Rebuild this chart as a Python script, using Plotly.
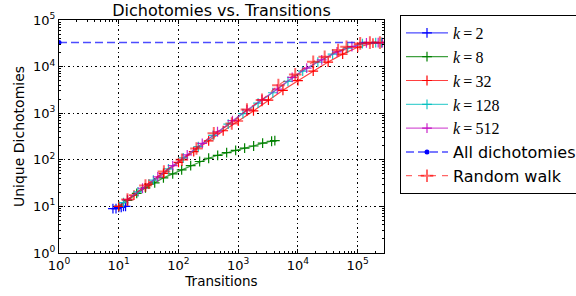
import plotly.graph_objects as go

# ---------------- data ----------------
tick_vals = [1, 10, 100, 1000, 10000, 100000]
tick_text = ["10<sup>0</sup>", "10<sup>1</sup>", "10<sup>2</sup>",
             "10<sup>3</sup>", "10<sup>4</sup>", "10<sup>5</sup>"]

k2_x = [8, 9, 10, 11, 12, 13]
k2_y = [9, 9, 9.5, 9.5, 10, 10]

k8_x = [10, 14, 20, 28, 40, 56, 80, 113, 160, 226, 320, 453, 640, 905,
        1280, 1810, 2560, 3620, 4100]
k8_y = [10, 13.5, 19, 25, 32, 41, 50, 61, 75, 92, 108, 125, 142, 160,
        178, 198, 228, 250, 258]

k32_x = [10, 18, 32, 56, 100, 180, 320, 560, 1000, 1800, 3200, 5600,
         10000, 18000, 32000, 56000, 100000, 180000, 250000]
k32_y = [10, 17.5, 30, 51, 88, 150, 255, 420, 680, 1120, 1900, 3100,
         5000, 8000, 12500, 18500, 26000, 32000, 32768]

k128_x = [12, 21, 38, 68, 120, 215, 380, 680, 1200, 2150, 3800, 6800,
          12000, 21500, 38000, 68000, 120000, 200000, 250000]
k128_y = [12, 20.5, 36.5, 64, 110, 192, 335, 580, 980, 1650, 2750, 4800,
          8000, 12500, 18500, 25000, 31000, 32768, 32768]

k512_x = [14, 25, 45, 80, 140, 250, 450, 800, 1400, 2500, 4500, 8000,
          14000, 25000, 45000, 80000, 140000, 220000, 260000]
k512_y = [14, 24.5, 43, 75, 128, 225, 400, 690, 1170, 1940, 3300, 5850,
          9300, 14000, 20700, 27000, 32300, 32768, 32768]

all_x = [1, 1000000]
all_y = [32768, 32768]

rw_x = [14, 28, 57, 114, 200, 390, 780, 1400, 2500, 4700, 9000, 18000,
        28000, 47000, 65000, 110000, 160000, 235000]
rw_y = [14, 28, 56, 100, 175, 370, 600, 1200, 1930, 4000, 6800, 12700,
        16300, 22700, 26700, 31500, 32768, 32768]

series_names = ["k=2", "k=8", "k=32", "k=128", "k=512",
                "All dichotomies", "Random walk"]

# ---------------- figure ----------------
fig = go.Figure()

def ktext(label):
    k, v = label.split("=")
    return ("<span style='font-family:Liberation Serif'><i>" + k +
            "</i>\u2009=\u2009" + v + "</span>")

line_series = [
    (k2_x, k2_y, "rgba(0,0,255,0.7)", "rgb(0,0,255)"),
    (k8_x, k8_y, "rgba(0,128,0,0.75)", "rgb(0,128,0)"),
    (k32_x, k32_y, "rgba(255,0,0,0.75)", "rgb(255,0,0)"),
    (k128_x, k128_y, "rgba(0,191,191,0.7)", "rgba(0,191,191,0.9)"),
    (k512_x, k512_y, "rgba(191,0,191,0.65)", "rgba(191,0,191,0.85)"),
]
for i, (xs, ys, lc, mc) in enumerate(line_series):
    fig.add_trace(go.Scatter(
        x=xs, y=ys, mode="lines+markers", name=ktext(series_names[i]),
        legendgroup=str(i),
        line=dict(color=lc, width=1.2),
        marker=dict(symbol="cross-thin", size=7, color=mc,
                    line=dict(color=mc, width=1.2)),
    ))

fig.add_trace(go.Scatter(
    x=all_x, y=all_y, mode="lines+markers", name=series_names[5],
    legendgroup="5",
    line=dict(color="rgba(0,0,255,0.7)", width=1.5, dash="8px,4px"),
    marker=dict(symbol="circle", size=5, color="rgb(0,0,255)"),
))

fig.add_trace(go.Scatter(
    x=rw_x, y=rw_y, mode="lines+markers", name=series_names[6],
    legendgroup="6",
    line=dict(color="rgba(255,0,0,0.6)", width=1.2, dash="6px,6px"),
    marker=dict(symbol="cross-thin", size=9, color="rgba(255,0,0,0.6)",
                line=dict(color="rgba(255,0,0,0.6)", width=2)),
))

axis_common = dict(
    type="log", showline=True, linecolor="black", linewidth=1, mirror="allticks",
    ticks="inside", ticklen=4, tickcolor="black", tickwidth=1,
    tickvals=tick_vals, ticktext=tick_text,
    showgrid=True, gridcolor="black", gridwidth=1, griddash="1.5px,3px",
    zeroline=False,
    tickfont=dict(family="DejaVu Sans", size=13, color="black"),
    minor=dict(ticks="inside", ticklen=2, tickcolor="black", dtick="D1",
               showgrid=False),
)

fig.update_layout(
    width=576, height=296,
    margin=dict(l=59, r=192, t=20, b=43, autoexpand=False),
    paper_bgcolor="white", plot_bgcolor="white",
    font=dict(family="DejaVu Sans", color="black"),
    title=dict(text="Dichotomies vs. Transitions", x=0.5, xref="paper",
               y=1 - 10 / 296, yanchor="middle", xanchor="center",
               font=dict(size=16, color="black")),
    xaxis=dict(axis_common, range=[0, 5.44],
               title=dict(text="Transitions", font=dict(size=13.5), standoff=4)),
    yaxis=dict(axis_common, range=[0, 5],
               title=dict(text="Unique Dichotomies", font=dict(size=14), standoff=5)),
    legend=dict(x=(400 - 59) / 325, y=1 + 5 / 233, xanchor="left", yanchor="top",
                xref="paper", yref="paper", maxheight=280,
                bordercolor="black", borderwidth=1, bgcolor="white",
                font=dict(family="DejaVu Sans", size=16, color="black"),
                tracegroupgap=0, itemwidth=42),
    showlegend=True,
)

fig.write_html("out.html",
               config={"displayModeBar": False},
               post_script="document.body.style.margin='0';"
                           "document.body.style.overflow='hidden';")
